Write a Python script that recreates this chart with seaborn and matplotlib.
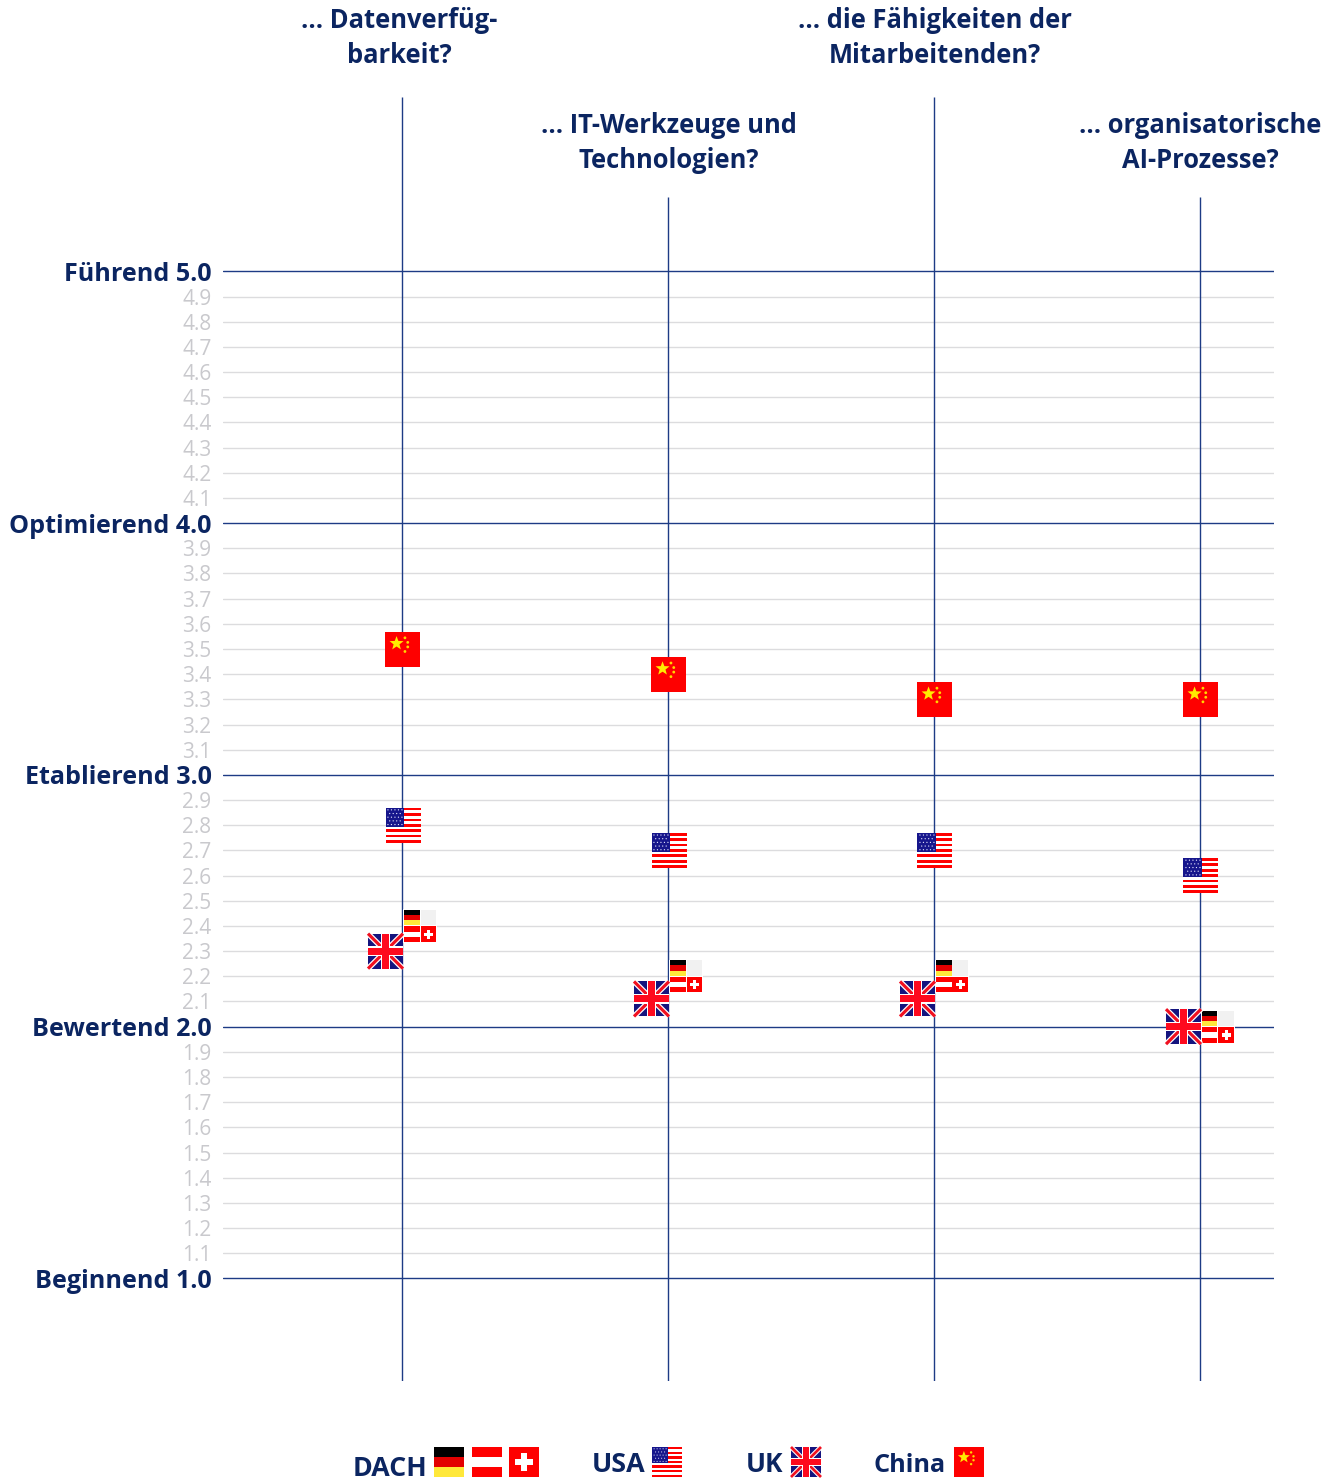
import numpy as np
import pandas as pd
import matplotlib
matplotlib.use("Agg")
import matplotlib.pyplot as plt
from matplotlib.patches import Polygon, Rectangle, Circle
from matplotlib.transforms import Affine2D
import seaborn as sns

# Survey values per question and region
questions = ["... Datenverfüg-\nbarkeit?", "... IT-Werkzeuge und\nTechnologien?",
             "... die Fähigkeiten der\nMitarbeitenden?", "... organisatorische\nAI-Prozesse?"]
china = [3.5, 3.4, 3.3, 3.3]
usa = [2.8, 2.7, 2.7, 2.6]
uk = [2.3, 2.11, 2.11, 2.0]
dach = [2.4, 2.2, 2.2, 2.0]
level_names = {1.0: "Beginnend", 2.0: "Bewertend", 3.0: "Etablierend", 4.0: "Optimierend", 5.0: "Führend"}

NAVY = "#0b2561"
LINE = "#1d3b85"
MINOR = "#dcdcde"
MINOR_TXT = "#c9c9cd"
FONT = ["Open Sans", "DejaVu Sans"]
W, H = 1336, 1481
X0, DX = 402.0, 266.0
Y5, DY = 271.4, 251.75

sns.set_theme(style="white")
plt.rcParams["font.family"] = FONT

fig = plt.figure(figsize=(W / 100, H / 100), dpi=100, facecolor="white")
L, R, T, B = 223, 1274, 97, 1381
ax = fig.add_axes([L / W, 1 - B / H, (R - L) / W, (B - T) / H])
ax.set_xlim((L - X0) / DX, (R - X0) / DX)
ax.set_ylim(5 - (B - Y5) / DY, 5 + (Y5 - T) / DY)
sns.despine(ax=ax, left=True, bottom=True)
ax.set_xticks([])

# Horizontal scale: thin rule per tenth, stronger rule per whole level
ticks = np.round(np.arange(1.0, 5.01, 0.1), 1)
labels = []
for t in ticks:
    labels.append(f"{level_names[t]} {t:.1f}" if t in level_names else f"{t:.1f}")
    major = t in level_names
    ax.axhline(t, color=LINE if major else MINOR, lw=1.0, zorder=2 if major else 1)
ax.set_yticks(ticks, labels)
ax.tick_params(axis="y", length=0, pad=8.2)
for t, lab in zip(ticks, ax.get_yticklabels()):
    if t in level_names:
        lab.set(color=NAVY, fontsize=18.1, fontweight="bold")
    else:
        lab.set(color=MINOR_TXT, fontsize=15)

# Question columns: alternating stem height with the question above
stem_tops = [ax.get_ylim()[1], 5 + (Y5 - 197) / DY] * 2
head_shift = [(-3, 28), (1, 23), (1, 28), (0, 23)]
for i, (q, top, shift) in enumerate(zip(questions, stem_tops, head_shift)):
    ax.vlines(i, ax.get_ylim()[0], top, color=LINE, lw=1.0, zorder=3)
    ax.annotate(q, (i, top), xytext=shift, textcoords="offset pixels", ha="center", va="bottom",
                color=NAVY, fontsize=18.4, fontweight="bold", linespacing=1.36,
                annotation_clip=False)

# Base squares of every flag, placed by region value
regions = ["China", "USA", "UK", "DACH"]
values = {"China": china, "USA": usa, "UK": uk, "DACH": dach}
dodge = {"China": 0.5 / DX, "USA": 1.0 / DX, "UK": -16.5 / DX, "DACH": 18.0 / DX}
rows = [{"region": r, "x": i + dodge[r], "y": v} for r in regions for i, v in enumerate(values[r])]
df = pd.DataFrame(rows)
sns.scatterplot(data=df, x="x", y="y", hue="region", size="region", marker="s", linewidth=0, legend=False,
                palette={"China": "#fe0000", "USA": "#ffffff", "UK": "#14147e", "DACH": "#ffffff"},
                sizes={"China": 620, "USA": 620, "UK": 600, "DACH": 570}, zorder=4, ax=ax)
ax.set_xlabel("")
ax.set_ylabel("")


def square(u0, v0, u1, v1, color, tr):
    fig.add_artist(Rectangle((u0, v0), u1 - u0, v1 - v0, fc=color, ec="none", transform=tr, zorder=5))


def stripes(cols, tr, u0=0, u1=1, v0=0, v1=1):
    n = len(cols)
    for k, c in enumerate(cols):
        square(u0, v0 + (v1 - v0) * k / n, u1, v0 + (v1 - v0) * (k + 1) / n, c, tr)


def germany(tr):
    stripes(["#000000", "#e30000", "#ffe83a"], tr)


def austria(tr):
    stripes(["#ff0000", "#ffffff", "#ff0000"], tr)


def swiss(tr):
    square(0, 0, 1, 1, "#fe0000", tr)
    square(0.40, 0.2, 0.60, 0.8, "#ffffff", tr)
    square(0.2, 0.40, 0.8, 0.60, "#ffffff", tr)


def stars_and_stripes(tr):
    stripes(["#ff0000" if k % 2 == 0 else "#ffffff" for k in range(13)], tr)
    square(0, 0, 0.54, 0.54, "#16168c", tr)
    for row in range(5):
        for col in range(4 + (row % 2 == 0)):
            u = (0.07 + col * 0.1) if row % 2 == 0 else (0.12 + col * 0.1)
            fig.add_artist(Circle((u, 0.06 + row * 0.105), 0.018, fc="#e8e8ff", ec="none",
                                  transform=tr, zorder=6))


def band(a, b, width, color, tr):
    d = np.subtract(b, a, dtype=float)
    n = np.array([-d[1], d[0]]) / np.hypot(*d) * width / 2
    fig.add_artist(Polygon([a + n, b + n, b - n, a - n], fc=color, ec="none", transform=tr, zorder=6))


def union_jack(tr):
    square(0, 0, 1, 1, "#14147e", tr)
    corners = [((0, 0), (1, 1)), ((0, 1), (1, 0))]
    for a, b in corners:
        band(np.array(a), np.array(b), 0.16, "#ffffff", tr)
    for a, b in corners:
        band(np.array(a), np.array(b), 0.09, "#f01020", tr)
    band(np.array((0.5, 0)), np.array((0.5, 1)), 0.27, "#ffffff", tr)
    band(np.array((0, 0.5)), np.array((1, 0.5)), 0.27, "#ffffff", tr)
    band(np.array((0.5, 0)), np.array((0.5, 1)), 0.2, "#fe0a1e", tr)
    band(np.array((0, 0.5)), np.array((1, 0.5)), 0.2, "#fe0a1e", tr)


def five_star(u, v, r, tr):
    ang = -np.pi / 2 + np.arange(10) * np.pi / 5
    rad = np.where(np.arange(10) % 2 == 0, r, r * 0.42)
    pts = np.column_stack([u + rad * np.cos(ang), v + rad * np.sin(ang)])
    fig.add_artist(Polygon(pts, fc="#ffec00", ec="none", transform=tr, zorder=6))


def prc(tr):
    square(0, 0, 1, 1, "#fe0000", tr)
    five_star(0.33, 0.34, 0.21, tr)
    for u, v in [(0.57, 0.18), (0.65, 0.31), (0.65, 0.44), (0.57, 0.57)]:
        fig.add_artist(Circle((u, v), 0.04, fc="#ffd800", ec="none", transform=tr, zorder=6))


def flag_tr(cx, cy, size):
    """Unit square with v pointing down, centred on a display position."""
    return Affine2D().translate(-0.5, -0.5).scale(size, -size).translate(cx, cy)


def data_px(x, y):
    return ax.transData.transform((x, y))


# Flag faces on top of the base squares
for i in range(4):
    prc(flag_tr(*data_px(i + dodge["China"], china[i]), 35))
    stars_and_stripes(flag_tr(*data_px(i + dodge["USA"], usa[i]), 35))
    union_jack(flag_tr(*data_px(i + dodge["UK"], uk[i]), 35))
    cx, cy = data_px(i + dodge["DACH"], dach[i])
    germany(flag_tr(cx - 8.3, cy + 8.3, 15.6))
    square(0, 0, 1, 1, "#f1f1f1", flag_tr(cx + 8.3, cy + 8.3, 15.6))
    austria(flag_tr(cx - 8.3, cy - 8.3, 15.6))
    swiss(flag_tr(cx + 8.3, cy - 8.3, 15.6))

# Key below the chart
def key_text(s, right_px, y_px, size):
    fig.text(right_px / W, 1 - y_px / H, s, ha="right", va="center", color=NAVY,
             fontsize=size, fontweight="bold")


key_text("DACH", 427.5, 1469, 19.3)
key_text("USA", 645, 1465, 19.4)
key_text("UK", 783, 1465, 19)
key_text("China", 946, 1465, 18.2)
for draw, px in [(germany, 449), (austria, 487), (swiss, 524), (stars_and_stripes, 667),
                 (union_jack, 806), (prc, 969)]:
    draw(flag_tr(px, H - 1462, 30))

fig.savefig("out.png", dpi=100, facecolor="white")
